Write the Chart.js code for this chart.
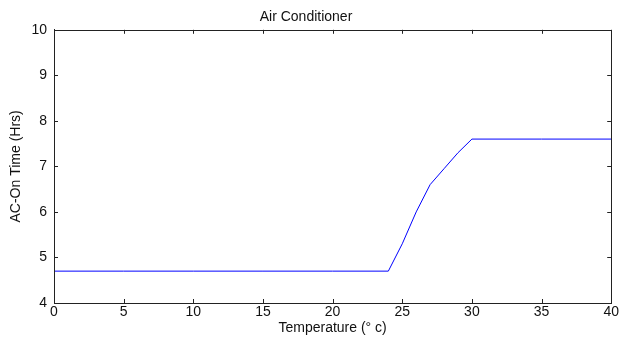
<!DOCTYPE html>
<html>
<head>
<meta charset="utf-8">
<script src="https://cdn.jsdelivr.net/npm/chart.js@4"></script>
<style>
  html, body { margin: 0; padding: 0; background: #fff; }
  #wrap { width: 620px; height: 338px; }
</style>
</head>
<body>
<div id="wrap"><canvas id="acChart" width="620" height="338"></canvas></div>
<script>
// temperature (deg C) and AC on-time (hours)
const temps = [0, 5, 10, 15, 20, 24, 25, 26, 27, 28, 29, 30, 35, 40];
const onTime = [4.7, 4.7, 4.7, 4.7, 4.7, 4.7, 5.3, 6.0, 6.6, 6.95, 7.3, 7.6, 7.6, 7.6];
const xTicks = [0, 5, 10, 15, 20, 25, 30, 35, 40];
const yTicks = [4, 5, 6, 7, 8, 9, 10];

const FONT = "'Liberation Sans', Arial, sans-serif";

// inward tick marks on all four sides, like a MATLAB box
const boxTicks = {
    id: 'boxTicks',
    afterDraw(chart) {
        const { ctx, chartArea: a, scales } = chart;
        const len = 4;
        ctx.save();
        ctx.strokeStyle = '#222';
        ctx.lineWidth = 1;
        ctx.beginPath();
        xTicks.forEach(v => {
            const px = Math.round(scales.x.getPixelForValue(v)) + 0.5;
            ctx.moveTo(px, a.bottom); ctx.lineTo(px, a.bottom - len);
            ctx.moveTo(px, a.top); ctx.lineTo(px, a.top + len);
        });
        yTicks.forEach(v => {
            const py = Math.round(scales.y.getPixelForValue(v)) + 0.5;
            ctx.moveTo(a.left, py); ctx.lineTo(a.left + len, py);
            ctx.moveTo(a.right, py); ctx.lineTo(a.right - len, py);
        });
        ctx.stroke();
        // frame
        ctx.strokeRect(Math.round(a.left) + 0.5, Math.round(a.top) + 0.5,
            Math.round(a.right - a.left), Math.round(a.bottom - a.top));
        ctx.restore();
    }
};

new Chart(document.getElementById('acChart'), {
    type: 'line',
    data: {
        datasets: [{
            data: temps.map((t, i) => ({ x: t, y: onTime[i] })),
            borderColor: '#0000ff',
            borderWidth: 1,
            pointRadius: 0,
            tension: 0,
            fill: false
        }]
    },
    options: {
        responsive: false,
        animation: false,
        layout: { padding: { left: 0, right: 8, top: 0, bottom: 0 } },
        plugins: {
            legend: { display: false },
            tooltip: { enabled: false },
            title: {
                display: true,
                text: 'Air Conditioner',
                color: '#111',
                font: { family: FONT, size: 14, weight: 'normal' },
                padding: { top: 9, bottom: 4 }
            }
        },
        scales: {
            x: {
                type: 'linear',
                min: 0, max: 40,
                afterBuildTicks: s => { s.ticks = xTicks.map(v => ({ value: v })); },
                afterFit: s => { s.height = 35; },
                grid: { display: false, drawTicks: false },
                border: { display: true, color: '#222' },
                ticks: { color: '#111', padding: 1, maxRotation: 0, font: { family: FONT, size: 14 } },
                title: {
                    display: true,
                    text: 'Temperature (\u00b0 c)',
                    color: '#111',
                    font: { family: FONT, size: 14 },
                    padding: { top: 0, bottom: 1 }
                }
            },
            y: {
                type: 'linear',
                min: 4, max: 10,
                afterBuildTicks: s => { s.ticks = yTicks.map(v => ({ value: v })); },
                afterFit: s => { s.width = 54; },
                grid: { display: false, drawTicks: false },
                border: { display: true, color: '#222' },
                ticks: { color: '#111', padding: 7, font: { family: FONT, size: 14 } },
                title: {
                    display: true,
                    text: 'AC-On Time (Hrs)',
                    color: '#111',
                    font: { family: FONT, size: 14 },
                    padding: { top: 8, bottom: 0 }
                }
            }
        }
    },
    plugins: [boxTicks]
});
</script>
</body>
</html>
